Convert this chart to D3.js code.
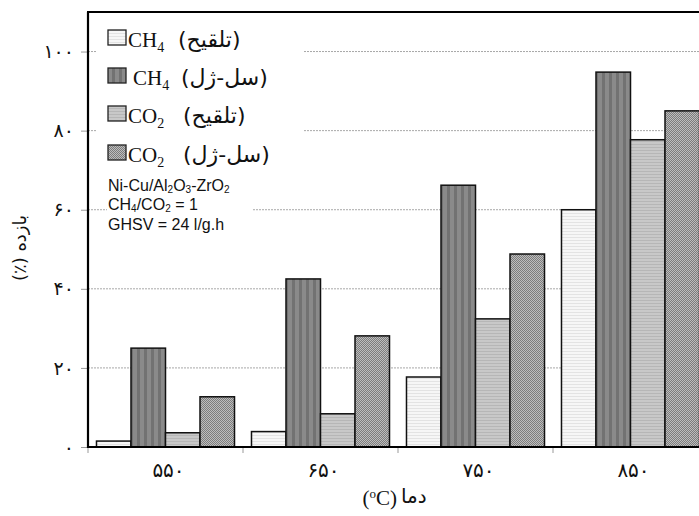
<!DOCTYPE html>
<html><head><meta charset="utf-8">
<script src="https://cdn.jsdelivr.net/npm/d3@7"></script>
<style>body{margin:0;background:#fff;}svg{display:block;}</style>
</head><body>
<svg id="c" width="699" height="516"></svg>
<script>
const categories = ["550", "650", "750", "850"];
const categoryLabels = ["۵۵۰", "۶۵۰", "۷۵۰", "۸۵۰"];
const seriesKeys = ["ch4_tal", "ch4_sol", "co2_tal", "co2_sol"];
const ch4Talghih = [1.5, 3.9, 17.7, 60.0];
const ch4SolGel = [25.0, 42.5, 66.2, 94.8];
const co2Talghih = [3.6, 8.4, 32.4, 77.7];
const co2SolGel = [12.7, 28.1, 48.8, 85.0];
const yTicks = [0, 20, 40, 60, 80, 100];
const yTickLabels = ["۰", "۲۰", "۴۰", "۶۰", "۸۰", "۱۰۰"];
const legendMain = ["CH", "CH", "CO", "CO"];
const legendSub = ["4", "4", "2", "2"];
const legendFa = ["(تلقیح)", "(سل-ژل)", "(تلقیح)", "(سل-ژل)"];
const yTitle = "بازده (٪)";
const xTitleFa = "دما";
const xTitleUnit = "C";

const seriesValues = [ch4Talghih, ch4SolGel, co2Talghih, co2SolGel];

const svg = d3.select("#c");
const L = 88, T = 12, B = 447, R = 708;

// patterns
const defs = svg.append("defs");
function pat(id, w, h, build) {
  const p = defs.append("pattern").attr("id", id).attr("patternUnits", "userSpaceOnUse")
    .attr("width", w).attr("height", h);
  build(p);
}
pat("p0", 4, 3, p => {
  p.append("rect").attr("width", 4).attr("height", 3).attr("fill", "#f6f6f6");
  p.append("rect").attr("width", 4).attr("height", 1).attr("fill", "#e3e3e3");
});
pat("p1", 7, 4, p => {
  p.append("rect").attr("width", 7).attr("height", 4).attr("fill", "#8a8a8a");
  p.append("rect").attr("width", 3).attr("height", 4).attr("fill", "#727272");
});
pat("p2", 4, 3, p => {
  p.append("rect").attr("width", 4).attr("height", 3).attr("fill", "#c8c8c8");
  p.append("rect").attr("width", 4).attr("height", 1).attr("fill", "#b6b6b6");
});
pat("p3", 2, 2, p => {
  p.append("rect").attr("width", 2).attr("height", 2).attr("fill", "#bdbdbd");
  p.append("rect").attr("width", 1).attr("height", 1).attr("fill", "#7c7c7c");
  p.append("rect").attr("x", 1).attr("y", 1).attr("width", 1).attr("height", 1).attr("fill", "#7c7c7c");
});
const fills = ["url(#p0)", "url(#p1)", "url(#p2)", "url(#p3)"];

const y = d3.scaleLinear().domain([0, 110]).range([B, T]);
const x0 = d3.scaleBand().domain(categories).range([L, R]).paddingInner(0).paddingOuter(0);
const x1 = d3.scaleBand().domain(seriesKeys).range([0, x0.bandwidth()]).paddingInner(0).paddingOuter(0.246);

// gridlines
svg.append("g").selectAll("line").data(yTicks.filter(d => d > 0)).join("line")
  .attr("x1", L).attr("x2", R).attr("y1", d => y(d)).attr("y2", d => y(d))
  .attr("stroke", "#a8a8a8").attr("stroke-width", 1).attr("stroke-dasharray", "2,1");

// legend and annotation backgrounds (hide gridlines)
svg.append("rect").attr("x", 97).attr("y", 20).attr("width", 206).attr("height", 150).attr("fill", "#fff");
svg.append("rect").attr("x", 107).attr("y", 176).attr("width", 146).attr("height", 58).attr("fill", "#fff");

// bars
const groups = svg.append("g").selectAll("g").data(categories).join("g")
  .attr("transform", d => `translate(${x0(d)},0)`);
groups.selectAll("rect").data((d, i) => seriesKeys.map((k, j) => ({ k, j, v: seriesValues[j][i] }))).join("rect")
  .attr("x", d => x1(d.k)).attr("width", x1.bandwidth())
  .attr("y", d => y(d.v)).attr("height", d => y(0) - y(d.v))
  .attr("fill", d => fills[d.j]).attr("stroke", "#111").attr("stroke-width", 1.5);

// axes
const yAxis = d3.axisLeft(y).tickValues(yTicks).tickFormat((d, i) => yTickLabels[i]).tickSize(7).tickPadding(7);
const gy = svg.append("g").attr("transform", `translate(${L},0)`).call(yAxis);
gy.select(".domain").remove();
gy.selectAll(".tick line").attr("stroke", "#999").attr("stroke-width", 1);
gy.selectAll(".tick text").attr("font-family", "'DejaVu Sans'").attr("font-size", 19).attr("fill", "#111");

const xb = d3.scaleLinear().domain([0, 4]).range([L, R]);
svg.append("g").selectAll("line").data([0, 1, 2, 3]).join("line")
  .attr("x1", d => xb(d)).attr("x2", d => xb(d)).attr("y1", B).attr("y2", B + 6)
  .attr("stroke", "#999").attr("stroke-width", 1);
svg.append("g").selectAll("text").data(categories).join("text")
  .attr("x", d => x0(d) + x0.bandwidth() / 2 + 3).attr("y", 477)
  .attr("text-anchor", "middle").attr("font-family", "'DejaVu Sans'").attr("font-size", 20).attr("fill", "#111")
  .text((d, i) => categoryLabels[i]);

// frame lines
svg.append("line").attr("x1", L).attr("x2", L).attr("y1", T).attr("y2", B + 1).attr("stroke", "#000").attr("stroke-width", 2.2);
svg.append("line").attr("x1", L - 1).attr("x2", 699).attr("y1", T).attr("y2", T).attr("stroke", "#000").attr("stroke-width", 2.2);
svg.append("line").attr("x1", L - 1).attr("x2", 699).attr("y1", B).attr("y2", B).attr("stroke", "#000").attr("stroke-width", 2);

// titles
svg.append("text").attr("transform", "translate(26,248) rotate(-90)")
  .attr("text-anchor", "middle").attr("font-family", "'DejaVu Sans'").attr("font-size", 18).attr("fill", "#111")
  .attr("direction", "rtl").text(yTitle);
const xt = svg.append("text").attr("x", 397).attr("y", 505).attr("text-anchor", "end")
  .attr("font-family", "'Liberation Serif'").attr("font-size", 21).attr("fill", "#111");
xt.append("tspan").text("(");
xt.append("tspan").attr("font-size", 13).attr("dy", -7).text("o");
xt.append("tspan").attr("dy", 7).text(xTitleUnit + ")");
svg.append("text").attr("x", 401).attr("y", 503).attr("text-anchor", "start")
  .attr("font-family", "'DejaVu Sans'").attr("font-size", 20).attr("fill", "#111")
  .text(xTitleFa);

// legend
const lg = svg.append("g");
const rowY = [47, 85, 123, 162];
const mainX = [128, 133, 128, 128];
const faX = [178, 181, 183, 183];
seriesKeys.forEach((k, i) => {
  lg.append("rect").attr("x", 108).attr("y", rowY[i] - 17).attr("width", 18).attr("height", 15)
    .attr("fill", fills[i]).attr("stroke", "#222").attr("stroke-width", 1.3);
  const t = lg.append("text").attr("x", mainX[i]).attr("y", rowY[i])
    .attr("font-family", "'Liberation Serif'").attr("font-size", 21).attr("fill", "#111");
  t.append("tspan").text(legendMain[i]);
  t.append("tspan").attr("font-size", 14).attr("dy", 5).text(legendSub[i]);
  lg.append("text").attr("x", faX[i]).attr("y", rowY[i])
    .attr("font-family", "'DejaVu Sans'").attr("font-size", 22).attr("fill", "#111")
    .text(legendFa[i]);
});

// annotation
const ann = svg.append("g").attr("font-family", "'Liberation Sans', Arial").attr("font-size", 16).attr("fill", "#111");
const a1 = ann.append("text").attr("x", 108).attr("y", 191);
a1.append("tspan").text("Ni-Cu/Al");
a1.append("tspan").attr("font-size", 10).attr("dy", 2).text("2");
a1.append("tspan").attr("dy", -2).text("O");
a1.append("tspan").attr("font-size", 10).attr("dy", 2).text("3");
a1.append("tspan").attr("dy", -2).text("-ZrO");
a1.append("tspan").attr("font-size", 10).attr("dy", 2).text("2");
const a2 = ann.append("text").attr("x", 108).attr("y", 210);
a2.append("tspan").text("CH");
a2.append("tspan").attr("font-size", 10).attr("dy", 2).text("4");
a2.append("tspan").attr("dy", -2).text("/CO");
a2.append("tspan").attr("font-size", 10).attr("dy", 2).text("2");
a2.append("tspan").attr("dy", -2).text(" = 1");
ann.append("text").attr("x", 108).attr("y", 230).text("GHSV = 24 l/g.h");
</script>
</body></html>
